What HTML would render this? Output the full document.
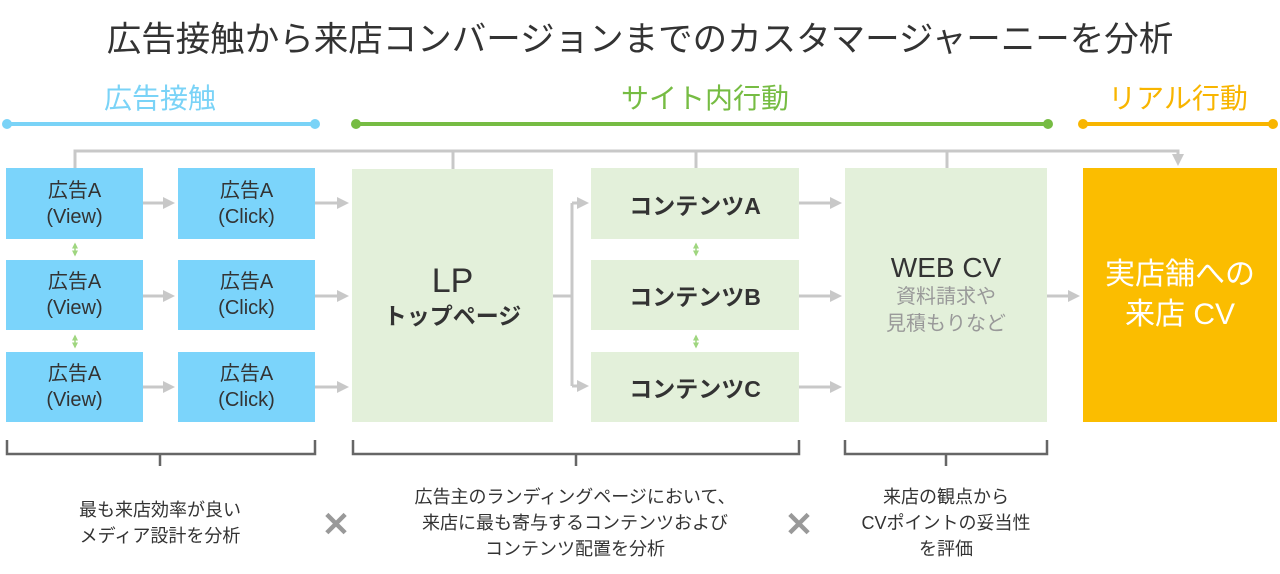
<!DOCTYPE html>
<html><head><meta charset="utf-8"><style>
body{margin:0;width:1280px;height:574px;background:#fff;position:relative;overflow:hidden;font-family:"Liberation Sans","Noto Sans CJK JP",sans-serif;color:#333}
.a{position:absolute;display:flex;align-items:center;justify-content:center;text-align:center;flex-direction:column}
.blue{background:#7bd4fb;font-size:20px;line-height:26px}
.grn{background:#e3f0da}
.t{position:absolute;text-align:center}
</style></head><body>
<svg width="1280" height="574" style="position:absolute;left:0;top:0">
<defs>
<marker id="g" markerWidth="4" markerHeight="4" refX="3" refY="2" orient="auto"><path d="M0,0L4,2L0,4z" fill="#c8c8c8"/></marker>
<marker id="gg" markerWidth="4" markerHeight="4" refX="3" refY="2" orient="auto-start-reverse"><path d="M0,0L4,2L0,4z" fill="#9fd67f"/></marker>
</defs>
<g stroke="#c8c8c8" stroke-width="3" fill="none">
<path d="M75,168V151H1178V163" marker-end="url(#g)"/>
<path d="M453,169V151M696,168V151M947,168V151"/>
<path d="M143,203H172" marker-end="url(#g)"/>
<path d="M143,296H172" marker-end="url(#g)"/>
<path d="M143,387H172" marker-end="url(#g)"/>
<path d="M315,203H346" marker-end="url(#g)"/>
<path d="M315,296H346" marker-end="url(#g)"/>
<path d="M315,387H346" marker-end="url(#g)"/>
<path d="M553,296H572M572,203V386"/>
<path d="M572,203H586" marker-end="url(#g)"/>
<path d="M572,386H586" marker-end="url(#g)"/>
<path d="M799,203H839" marker-end="url(#g)"/>
<path d="M799,296H839" marker-end="url(#g)"/>
<path d="M799,387H839" marker-end="url(#g)"/>
<path d="M1047,296H1077" marker-end="url(#g)"/>
</g>
<g stroke="#9fd67f" stroke-width="1.5">
<path d="M75,244V255" marker-start="url(#gg)" marker-end="url(#gg)"/>
<path d="M75,336V347" marker-start="url(#gg)" marker-end="url(#gg)"/>
<path d="M696,244V255" marker-start="url(#gg)" marker-end="url(#gg)"/>
<path d="M696,336V347" marker-start="url(#gg)" marker-end="url(#gg)"/>
</g>
<g stroke-width="4" stroke-linecap="round">
<line x1="7" y1="124" x2="315" y2="124" stroke="#7ad3f7"/><circle cx="7" cy="124" r="5" fill="#7ad3f7"/><circle cx="315" cy="124" r="5" fill="#7ad3f7"/>
<line x1="356" y1="124" x2="1048" y2="124" stroke="#76bc43"/><circle cx="356" cy="124" r="5" fill="#76bc43"/><circle cx="1048" cy="124" r="5" fill="#76bc43"/>
<line x1="1083" y1="124" x2="1273" y2="124" stroke="#f8b500"/><circle cx="1083" cy="124" r="5" fill="#f8b500"/><circle cx="1273" cy="124" r="5" fill="#f8b500"/>
</g>
<g stroke="#666" stroke-width="2.5" fill="none">
<path d="M7,440V454H315V440M160,454V466"/>
<path d="M353,440V454H799V440M576,454V466"/>
<path d="M845,440V454H1047V440M946,454V466"/>
</g>
</svg>
<div class="t" style="left:0;width:1280px;top:11px;font-size:34.5px">広告接触から来店コンバージョンまでのカスタマージャーニーを分析</div>
<div class="t" style="left:60px;width:200px;top:77px;font-size:28px;color:#7ad3f7">広告接触</div>
<div class="t" style="left:555px;width:300px;top:77px;font-size:28px;color:#76bc43">サイト内行動</div>
<div class="t" style="left:1078px;width:200px;top:77px;font-size:28px;color:#f8b500">リアル行動</div>

<div class="a blue" style="left:6px;top:168px;width:137px;height:71px">広告A<br>(View)</div>
<div class="a blue" style="left:6px;top:260px;width:137px;height:70px">広告A<br>(View)</div>
<div class="a blue" style="left:6px;top:352px;width:137px;height:70px">広告A<br>(View)</div>
<div class="a blue" style="left:178px;top:168px;width:137px;height:71px">広告A<br>(Click)</div>
<div class="a blue" style="left:178px;top:260px;width:137px;height:70px">広告A<br>(Click)</div>
<div class="a blue" style="left:178px;top:352px;width:137px;height:70px">広告A<br>(Click)</div>

<div class="a grn" style="left:352px;top:169px;width:201px;height:253px"><div style="font-size:34px;line-height:40px">LP</div><div style="font-size:23px;font-weight:bold;line-height:30px">トップページ</div></div>
<div class="a grn" style="left:591px;top:168px;width:208px;height:71px;font-size:23px;font-weight:bold">コンテンツA</div>
<div class="a grn" style="left:591px;top:260px;width:208px;height:70px;font-size:23px;font-weight:bold">コンテンツB</div>
<div class="a grn" style="left:591px;top:352px;width:208px;height:70px;font-size:23px;font-weight:bold">コンテンツC</div>
<div class="a grn" style="left:845px;top:168px;width:202px;height:254px"><div style="font-size:28px;line-height:32px">WEB CV</div><div style="font-size:20px;line-height:27px;color:#999">資料請求や<br>見積もりなど</div></div>
<div class="a" style="left:1083px;top:168px;width:194px;height:254px;background:#fbbd00;color:#fff;font-size:30px;line-height:40px">実店舗への<br>来店 CV</div>

<div class="t" style="left:40px;width:240px;top:497px;font-size:18px;line-height:26px">最も来店効率が良い<br>メディア設計を分析</div>
<div class="t" style="left:316px;width:40px;top:505px;font-size:34px;color:#999;font-weight:bold">✕</div>
<div class="t" style="left:360px;width:430px;top:484px;font-size:18px;line-height:26px">広告主のランディングページにおいて、<br>来店に最も寄与するコンテンツおよび<br>コンテンツ配置を分析</div>
<div class="t" style="left:779px;width:40px;top:505px;font-size:34px;color:#999;font-weight:bold">✕</div>
<div class="t" style="left:825px;width:242px;top:484px;font-size:18px;line-height:26px">来店の観点から<br>CVポイントの妥当性<br>を評価</div>
</body></html>
